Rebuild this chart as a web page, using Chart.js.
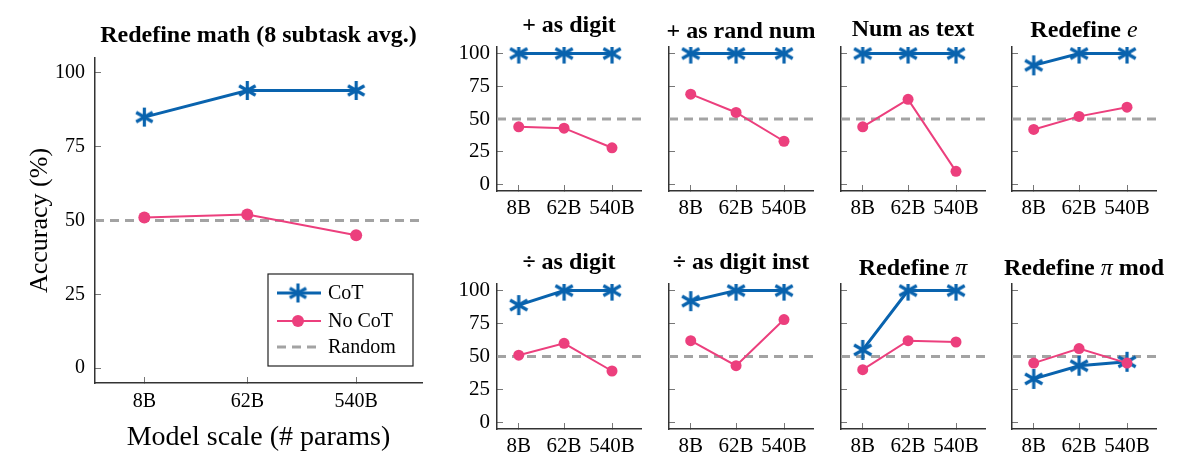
<!DOCTYPE html>
<html><head><meta charset="utf-8">
<script src="https://cdn.jsdelivr.net/npm/chart.js@4.4.1/dist/chart.umd.min.js"></script>
<style>
html,body{margin:0;padding:0;background:#fff;}
body{width:1199px;height:473px;position:relative;overflow:hidden;}
canvas{position:absolute;}
</style></head><body>
<script>
// ---------------- data ----------------
const modelLabels = ['8B', '62B', '540B'];
const modelParams = [8, 62, 540];
const yTickValues = [0, 25, 50, 75, 100];
const randomAccuracy = 50;
const seriesNames = ['CoT', 'No CoT', 'Random'];
const xAxisTitle = 'Model scale (# params)';
const yAxisTitle = 'Accuracy (%)';

const mainTitle = 'Redefine math (8 subtask avg.)';
const mainCoT = [85, 94, 94];
const mainNoCoT = [51, 52, 45];

const subtaskTitles = ['+ as digit', '+ as rand num', 'Num as text', 'Redefine $e$',
                       '÷ as digit', '÷ as digit inst', 'Redefine $π$', 'Redefine $π$ mod'];
const plusDigitCoT = [100, 100, 100];   const plusDigitNoCoT = [44, 43, 28];
const plusRandCoT = [100, 100, 100];    const plusRandNoCoT = [69, 55, 33];
const numTextCoT = [100, 100, 100];     const numTextNoCoT = [44, 65, 10];
const redefECoT = [91, 100, 100];       const redefENoCoT = [42, 52, 59];
const divDigitCoT = [89, 100, 100];     const divDigitNoCoT = [51, 60, 39];
const divInstCoT = [92, 100, 100];      const divInstNoCoT = [62, 43, 78];
const redefPiCoT = [55, 100, 100];      const redefPiNoCoT = [40, 62, 61];
const redefPiModCoT = [33, 43, 46];     const redefPiModNoCoT = [45, 56, 45];

const subtaskCoT = [plusDigitCoT, plusRandCoT, numTextCoT, redefECoT, divDigitCoT, divInstCoT, redefPiCoT, redefPiModCoT];
const subtaskNoCoT = [plusDigitNoCoT, plusRandNoCoT, numTextNoCoT, redefENoCoT, divDigitNoCoT, divInstNoCoT, redefPiNoCoT, redefPiModNoCoT];

// ---------------- style ----------------
const X_MIN = 3, X_MAX = 2000, Y_MIN = -5, Y_MAX = 105;
const BLUE = '#0963ae', PINK = '#ec3f7d', GRAY = '#a3a3a3', AXIS = '#333333';
const SERIF = '"Liberation Serif", "Times New Roman", serif';

function asteriskCanvas(r, lw, color) {
  const c = document.createElement('canvas');
  const s = Math.ceil(2 * r + lw + 2);
  c.width = c.height = s;
  const g = c.getContext('2d');
  g.strokeStyle = color; g.lineWidth = lw; g.lineCap = 'butt';
  g.translate(s / 2, s / 2);
  for (let k = 0; k < 3; k++) {
    const a = Math.PI / 2 + k * Math.PI / 3;
    g.beginPath();
    g.moveTo(r * Math.cos(a), r * Math.sin(a));
    g.lineTo(-r * Math.cos(a), -r * Math.sin(a));
    g.stroke();
  }
  return c;
}

function parseRich(text) {
  const parts = text.split('$');
  return parts.map((t, i) => ({ t, math: i % 2 === 1 })).filter(p => p.t.length);
}

function titlePlugin(text, baseline, size) {
  return {
    id: 'richTitle',
    afterDraw(chart) {
      const ctx = chart.ctx, a = chart.chartArea;
      const segs = parseRich(text);
      const fontOf = s => s.math ? `italic ${size}px ${SERIF}` : `bold ${size}px ${SERIF}`;
      let total = 0;
      segs.forEach(s => { ctx.font = fontOf(s); s.w = ctx.measureText(s.t).width; total += s.w; });
      let x = (a.left + a.right) / 2 - total / 2;
      ctx.save();
      ctx.fillStyle = '#000';
      ctx.textBaseline = 'alphabetic';
      ctx.textAlign = 'left';
      segs.forEach(s => { ctx.font = fontOf(s); ctx.fillText(s.t, x, baseline); x += s.w; });
      ctx.restore();
    }
  };
}

const legendPlugin = {
  id: 'insideLegend',
  afterDraw(chart) {
    const ctx = chart.ctx;
    const box = { l: 268, t: 274, r: 413, b: 366 };
    ctx.save();
    ctx.fillStyle = '#fff';
    ctx.fillRect(box.l, box.t, box.r - box.l, box.b - box.t);
    ctx.strokeStyle = '#222'; ctx.lineWidth = 1.2;
    ctx.strokeRect(box.l, box.t, box.r - box.l, box.b - box.t);
    const rows = [293, 321, 347];
    const byLabel = {};
    chart.data.datasets.forEach(d => byLabel[d.label] = d);
    seriesNames.forEach((name, i) => {
      const d = byLabel[name], y = rows[i];
      ctx.strokeStyle = d.borderColor; ctx.lineWidth = d.borderWidth;
      ctx.setLineDash(d.borderDash || []);
      ctx.beginPath(); ctx.moveTo(277, y); ctx.lineTo(321, y); ctx.stroke();
      ctx.setLineDash([]);
      if (d.pointStyle instanceof HTMLCanvasElement) {
        ctx.drawImage(d.pointStyle, 298 - d.pointStyle.width / 2, y - d.pointStyle.height / 2);
      } else if (d.pointRadius > 0) {
        ctx.fillStyle = d.pointBackgroundColor;
        ctx.beginPath(); ctx.arc(298, y, d.pointRadius, 0, Math.PI * 2); ctx.fill();
      }
      ctx.fillStyle = '#000'; ctx.font = `20px ${SERIF}`;
      ctx.textBaseline = 'middle'; ctx.textAlign = 'left';
      ctx.fillText(name, 328, y + 1);
    });
    ctx.restore();
  }
};

function makeChart(o) {
  const cv = document.createElement('canvas');
  cv.width = o.w; cv.height = o.h;
  cv.style.left = o.x + 'px'; cv.style.top = o.y + 'px';
  cv.style.width = o.w + 'px'; cv.style.height = o.h + 'px';
  document.body.appendChild(cv);
  const star = asteriskCanvas(o.starR, 3.2, BLUE);
  const pts = arr => modelParams.map((p, i) => ({ x: p, y: arr[i] }));
  const datasets = [
    { label: seriesNames[1], data: pts(o.noCot), borderColor: PINK, backgroundColor: PINK, borderWidth: 2,
      pointStyle: 'circle', pointRadius: o.dotR, pointBackgroundColor: PINK, pointBorderWidth: 0, order: 0 },
    { label: seriesNames[0], data: pts(o.cot), borderColor: BLUE, backgroundColor: BLUE, borderWidth: 3,
      pointStyle: star, pointRadius: o.starR, order: 1 },
    { label: seriesNames[2], data: [{ x: X_MIN, y: randomAccuracy }, { x: X_MAX, y: randomAccuracy }],
      borderColor: GRAY, borderWidth: 3, borderDash: [9, 6], pointRadius: 0, order: 2 }
  ];
  const plugins = [titlePlugin(o.title, o.titleBase, o.titleSize)];
  if (o.legend) plugins.push(legendPlugin);
  return new Chart(cv, {
    type: 'line',
    data: { datasets },
    plugins,
    options: {
      responsive: false, animation: false, devicePixelRatio: 1,
      events: [],
      layout: { padding: { left: 0, top: o.padTop, right: o.padRight, bottom: 0 } },
      plugins: { legend: { display: false }, tooltip: { enabled: false }, title: { display: false } },
      scales: {
        x: {
          type: 'logarithmic', min: X_MIN, max: X_MAX,
          afterBuildTicks: s => { s.ticks = modelParams.map(v => ({ value: v })); },
          afterFit: s => { s.height = o.xH; },
          grid: { display: true, drawOnChartArea: false, drawTicks: true, tickLength: -6, color: '#777', lineWidth: 1 },
          border: { display: true, color: AXIS, width: 1.5 },
          ticks: { autoSkip: false, maxRotation: 0, padding: o.xPad, color: '#000',
                   font: { family: SERIF, size: o.tickSize },
                   callback: v => modelLabels[modelParams.indexOf(v)] },
          title: { display: !!o.xTitle, text: xAxisTitle, color: '#000', font: { family: SERIF, size: 28 },
                   padding: { top: 0, bottom: 19 } }
        },
        y: {
          type: 'linear', min: Y_MIN, max: Y_MAX,
          afterBuildTicks: s => { s.ticks = yTickValues.map(v => ({ value: v })); },
          afterFit: s => { s.width = o.yW; },
          grid: { display: true, drawOnChartArea: false, drawTicks: true, tickLength: -6, color: '#777', lineWidth: 1 },
          border: { display: true, color: AXIS, width: 1.5 },
          ticks: { display: o.yLabels, padding: o.yPad, color: '#000', font: { family: SERIF, size: o.tickSize } },
          title: { display: !!o.yTitle, text: yAxisTitle, color: '#000', font: { family: SERIF, size: 26 },
                   padding: { top: 25, bottom: 0 } }
        }
      }
    }
  });
}

// main chart
makeChart({ x: 0, y: 0, w: 440, h: 473, padTop: 58, padRight: 18, xH: 90, yW: 95,
  cot: mainCoT, noCot: mainNoCoT, title: mainTitle, titleBase: 42, titleSize: 24,
  starR: 9.5, dotR: 6, tickSize: 20, xPad: 13, yPad: 16, yLabels: true,
  xTitle: true, yTitle: true, legend: true });

// subtask charts
const colAxisLeft = [497, 669, 841, 1012];
const rowCanvasTop = [0, 237];
const rowAreaBottom = [191, 192];
const titleBaselines = [32, 38, 36, 37, 32, 32, 38, 38];
for (let i = 0; i < 8; i++) {
  const col = i % 4, row = Math.floor(i / 4);
  const yW = 62;
  makeChart({ x: colAxisLeft[col] - yW, y: rowCanvasTop[row], w: yW + 144 + 14, h: 236,
    padTop: 47, padRight: 14, xH: 236 - rowAreaBottom[row], yW,
    cot: subtaskCoT[i], noCot: subtaskNoCoT[i], title: subtaskTitles[i], titleBase: titleBaselines[i], titleSize: 24,
    starR: 10, dotR: 5.5, tickSize: 21, xPad: 11, yPad: 13, yLabels: col === 0,
    xTitle: false, yTitle: false, legend: false });
}
</script>
</body></html>
